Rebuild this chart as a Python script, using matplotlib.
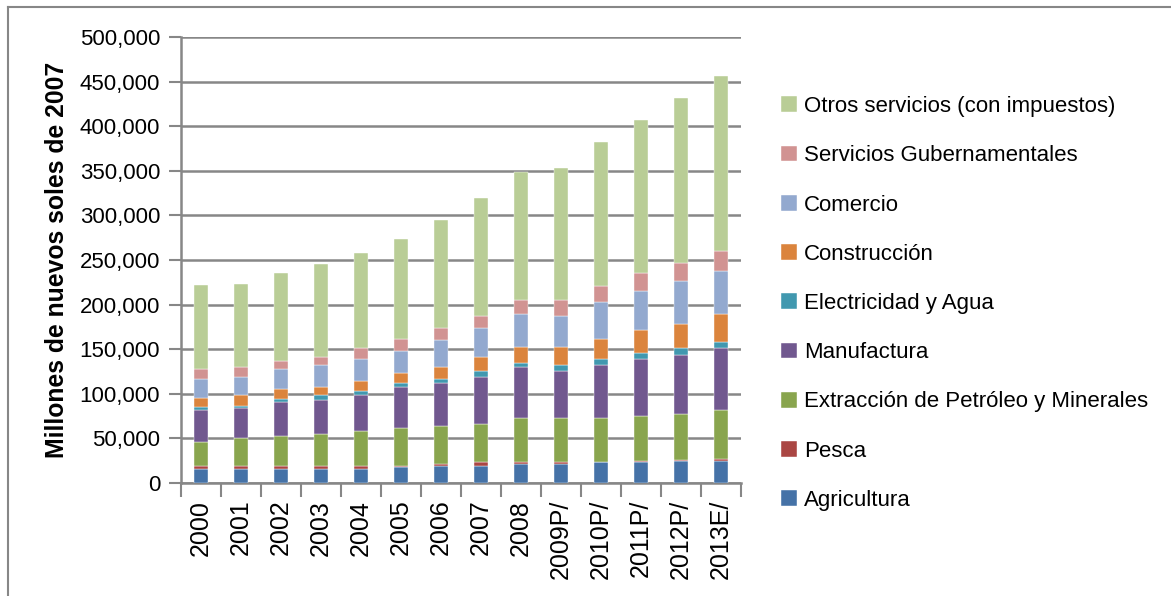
import matplotlib
matplotlib.use("Agg")
import matplotlib.pyplot as plt
from matplotlib.ticker import FuncFormatter, FixedLocator
from matplotlib.lines import Line2D
import numpy as np

years = ["2000", "2001", "2002", "2003", "2004", "2005", "2006", "2007",
         "2008", "2009P/", "2010P/", "2011P/", "2012P/", "2013E/"]

agricultura   = [16000, 16000, 16200, 16200, 16000, 17500, 18500, 18500, 21100, 21100, 23000, 23000, 25200, 25200]
pesca         = [2500, 2500, 2300, 2300, 2500, 1400, 2300, 4500, 1900, 1900, 1000, 2200, 600, 2200]
extraccion    = [27800, 31900, 34500, 36700, 39300, 43000, 43300, 43300, 50000, 50000, 49000, 50300, 52000, 54800]
manufactura   = [35900, 34000, 38100, 38100, 40700, 45900, 48100, 52600, 57000, 53000, 58900, 63400, 65500, 68600]
electricidad  = [2700, 2300, 2700, 4900, 4500, 4400, 4500, 6300, 4400, 6200, 7000, 7100, 7500, 7000]
construccion  = [10600, 11500, 11400, 9600, 11400, 11100, 13300, 16300, 18600, 20800, 23000, 25100, 27400, 32200]
comercio      = [21600, 21100, 23000, 24900, 24900, 25200, 30000, 32600, 36600, 34400, 41400, 43800, 47800, 47400]
gubernamental = [10300, 10700, 8500, 8800, 11500, 13400, 13300, 13300, 15900, 18100, 17800, 20300, 20600, 22600]
otros         = [94800, 93600, 99100, 104100, 107000, 112100, 121300, 132300, 143400, 147100, 161300, 171800, 184700, 196400]

series = [
    ("Agricultura", agricultura, "#4572A7"),
    ("Pesca", pesca, "#AA4643"),
    ("Extracción de Petróleo y Minerales", extraccion, "#89A54E"),
    ("Manufactura", manufactura, "#71588F"),
    ("Electricidad y Agua", electricidad, "#4198AF"),
    ("Construcción", construccion, "#DB843D"),
    ("Comercio", comercio, "#93A9CF"),
    ("Servicios Gubernamentales", gubernamental, "#D19392"),
    ("Otros servicios (con impuestos)", otros, "#B9CD96"),
]

plt.rcParams['font.family'] = ['Liberation Sans', 'DejaVu Sans']

W, H = 1171, 596
fig = plt.figure(figsize=(W / 100, H / 100), dpi=100)
ax = fig.add_axes([181 / W, 1 - 483 / H, (741 - 181) / W, (483 - 37) / H])

x = np.arange(len(years))
bottom = np.zeros(len(years))
handles = []
for name, vals, col in series:
    v = np.array(vals, dtype=float)
    b = ax.bar(x, v, width=0.37, bottom=bottom, color=col, label=name,
               edgecolor="white", linewidth=0.3, zorder=3)
    handles.append(b)
    bottom += v

grid_col = "#878787"
ax.set_ylim(0, 500000)
ax.set_xlim(-0.5, len(years) - 0.5)
ax.set_yticks(np.arange(0, 500001, 50000))
ax.yaxis.set_major_formatter(FuncFormatter(lambda v, p: f"{int(v):,}"))
ax.yaxis.grid(True, color=grid_col, linewidth=1.8, zorder=0)
ax.set_axisbelow(True)

ax.set_xticks(x)
ax.set_xticklabels(years, rotation=90, fontsize=18)
ax.xaxis.set_minor_locator(FixedLocator(np.arange(-0.5, len(years), 1.0)))
ax.tick_params(axis="x", which="major", length=0, pad=12)
ax.tick_params(axis="x", which="minor", length=10, width=1.5, color=grid_col)
ax.tick_params(axis="y", which="major", length=9, width=1.5, color=grid_col,
               labelsize=16, pad=6)

for s in ["top", "right"]:
    ax.spines[s].set_visible(False)
for s in ["left", "bottom"]:
    ax.spines[s].set_color(grid_col)
    ax.spines[s].set_linewidth(1.8)

ax.set_ylabel("Millones de nuevos soles de 2007", fontsize=17.8, fontweight="bold",
              labelpad=8)

leg = fig.legend(handles[::-1], [s[0] for s in series][::-1],
                 loc="upper left", bbox_to_anchor=(770 / W, 1 - 85 / H),
                 frameon=False, fontsize=16, labelspacing=1.27,
                 handlelength=0.72, handleheight=0.72, handletextpad=0.3,
                 borderpad=0)

# outer chart frame
fig.add_artist(Line2D([8 / W, 1.0], [1 - 7 / H, 1 - 7 / H], color=grid_col, lw=1.5))
fig.add_artist(Line2D([8 / W, 8 / W], [0, 1 - 7 / H], color=grid_col, lw=1.5))

fig.savefig("out.png", dpi=100)
